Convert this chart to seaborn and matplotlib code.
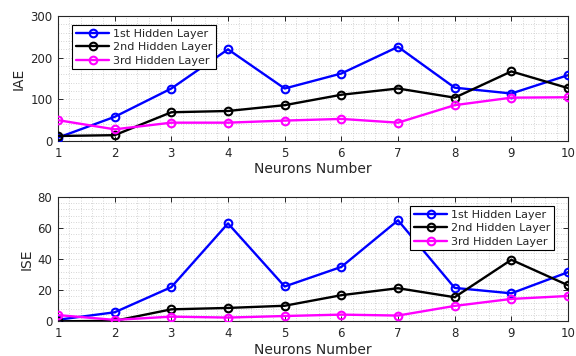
import numpy as np
import pandas as pd
import matplotlib
matplotlib.use("Agg")
import matplotlib.pyplot as plt
import seaborn as sns
from matplotlib.ticker import MultipleLocator

neurons = [1, 2, 3, 4, 5, 6, 7, 8, 9, 10]
series_names = ["1st Hidden Layer", "2nd Hidden Layer", "3rd Hidden Layer"]
iae_1st = [8, 58, 126, 220, 126, 162, 226, 128, 114, 158]
iae_2nd = [12, 14, 69, 72, 86, 111, 126, 104, 167, 127]
iae_3rd = [50, 28, 44, 44, 49, 53, 44, 86, 104, 105]
ise_1st = [1, 5.8, 22, 63, 22.4, 35, 65, 21.5, 18, 31.6]
ise_2nd = [0, 0.3, 7.7, 8.6, 10, 16.8, 21.3, 15.5, 39.6, 23.2]
ise_3rd = [4, 0.9, 3, 2.4, 3.4, 4.3, 3.7, 9.9, 14.4, 16.3]
colors = ["#0000ff", "#000000", "#ff00ff"]

sns.set_theme(style="white")
plt.rcParams['font.family'] = ['DejaVu Sans']
txt = "#262626"

fig = plt.figure(figsize=(5.76, 3.56), dpi=100)
ax1 = fig.add_axes([58/576, 1-141/356, 510/576, 125/356])
ax2 = fig.add_axes([58/576, 1-321.3/356, 510/576, 124.3/356])

def draw(ax, data, ylim, ymajor, yminor, ylabel, legend_anchor, legend_loc):
    for name, vals, c in zip(series_names, data, colors):
        df = pd.DataFrame({"x": neurons, "y": vals})
        sns.lineplot(data=df, x="x", y="y", ax=ax, color=c, marker="o",
                     markersize=5.5, markerfacecolor="none", markeredgecolor=c,
                     markeredgewidth=1.5, linewidth=1.7, label=name, zorder=3)
    ax.set_xlim(1, 10)
    ax.set_ylim(*ylim)
    ax.xaxis.set_major_locator(MultipleLocator(1))
    ax.xaxis.set_minor_locator(MultipleLocator(0.2))
    ax.yaxis.set_major_locator(MultipleLocator(ymajor))
    ax.yaxis.set_minor_locator(MultipleLocator(yminor))
    ax.grid(which="both", color="#c8c8c8", linestyle=(0, (1, 2)), linewidth=0.6, zorder=0)
    ax.set_axisbelow(True)
    ax.tick_params(which="major", direction="in", length=3.5, width=0.7, colors=txt,
                   labelsize=8.5, top=True, right=True, bottom=True, left=True, pad=4)
    ax.tick_params(which="minor", length=0)
    for s in ax.spines.values():
        s.set_color(txt)
        s.set_linewidth(0.8)
        s.set_visible(True)
    ax.set_xlabel("Neurons Number", fontsize=10, color=txt, labelpad=2)
    ax.set_ylabel(ylabel, fontsize=10, color=txt, labelpad=3)
    leg = ax.legend(loc=legend_loc, bbox_to_anchor=legend_anchor, bbox_transform=fig.transFigure,
                    borderaxespad=0, fontsize=8, handlelength=3.0, frameon=True, fancybox=False,
                    edgecolor="black", framealpha=1, borderpad=0.35, labelspacing=0.3,
                    handletextpad=0.3)
    leg.get_frame().set_linewidth(0.8)
    for t in leg.get_texts():
        t.set_color(txt)

draw(ax1, [iae_1st, iae_2nd, iae_3rd], (0, 300), 100, 20, "IAE",
     (72/576, 1-25/356), "upper left")
draw(ax2, [ise_1st, ise_2nd, ise_3rd], (0, 80), 20, 4, "ISE",
     (554/576, 1-206/356), "upper right")

fig.savefig("out.png", dpi=100)
